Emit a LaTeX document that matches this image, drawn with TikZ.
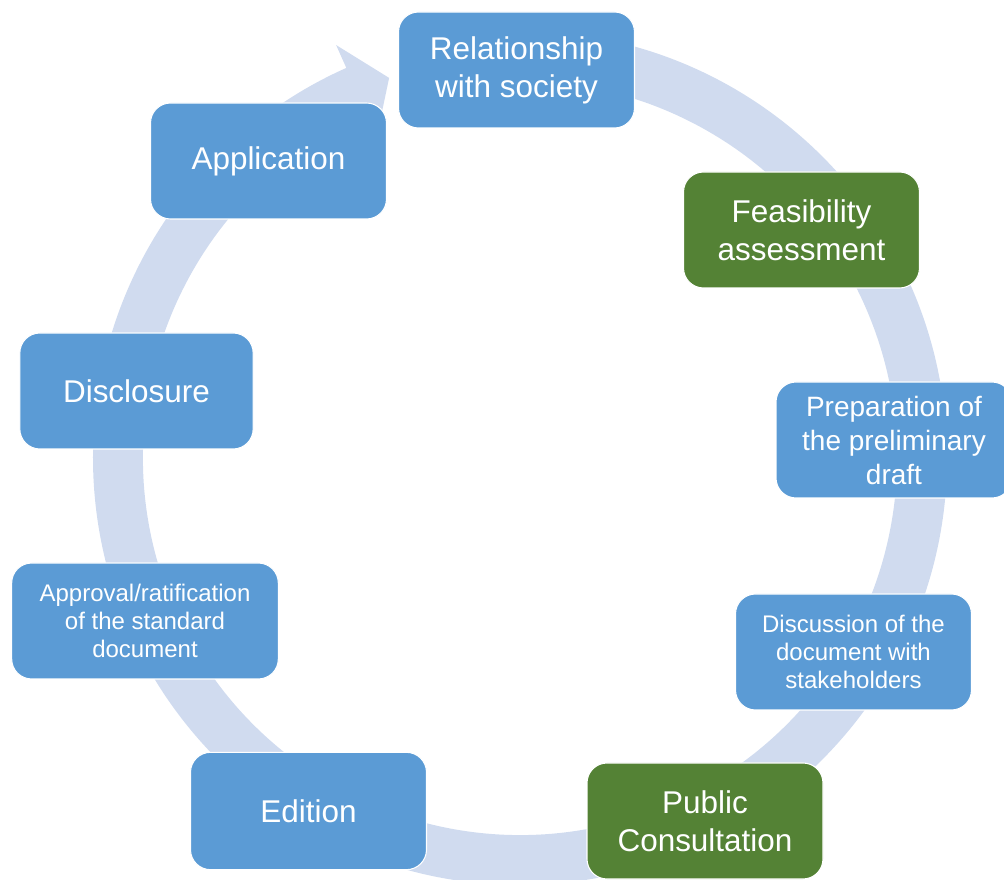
\documentclass[tikz,border=0pt]{standalone}
\usepackage{fontspec}
\setmainfont{Liberation Sans}
\usepackage{tikz}
\usetikzlibrary{shapes}
\usetikzlibrary{calc}
\definecolor{stepblue}{RGB}{91,155,213}
\definecolor{stepgreen}{RGB}{84,130,53}
\definecolor{ringblue}{RGB}{208,219,239}
\tikzset{ cycle_box/.style = {rectangle, rounded corners=15pt, fill=stepblue, draw=white, line width=0.8pt, text=white, align=center, minimum width=177pt, minimum height=87pt, inner sep=2pt, font=\fontsize{23.6}{28.5}\selectfont} }
\tikzset{ green_box/.style = {cycle_box, fill=stepgreen} }
\tikzset{ small_text/.style = {font=\fontsize{18}{21}\selectfont} }

\begin{document}
\begin{tikzpicture}[x=0.75pt, y=0.75pt]
        \clip (0,0) rectangle (1004,879);
        % circular arrow behind the steps
        \fill[ringblue, shift={(520,421)}] (95:427) arc[start angle=95, end angle=-246, radius=427]
            -- (-246:452) -- (-251:402) -- (-246:352) -- (-246:377)
            arc[start angle=-246, end angle=95, radius=377] -- cycle;
        \node[cycle_box] (rel) at (516.5,809) {Relationship\\with society};
        \node[green_box] (feas) at (801.5,649) {Feasibility\\assessment};
        \node[cycle_box, font=\fontsize{21}{25.5}\selectfont] (prep) at (894,439) {Preparation of\\the preliminary\\draft};
        \node[cycle_box, small_text] (disc) at (853.5,227) {Discussion of the\\document with\\stakeholders};
        \node[green_box] (pub) at (705,58) {Public\\Consultation};
        \node[cycle_box, minimum height=88pt] (edit) at (308.5,68) {Edition};
        \node[cycle_box, small_text, minimum width=200pt] (appr) at (145,258) {Approval/ratification\\of the standard\\document};
        \node[cycle_box, minimum width=175pt] (discl) at (136.5,488) {Disclosure};
        \node[cycle_box] (appl) at (268.5,718) {Application};
\end{tikzpicture}
\end{document}
